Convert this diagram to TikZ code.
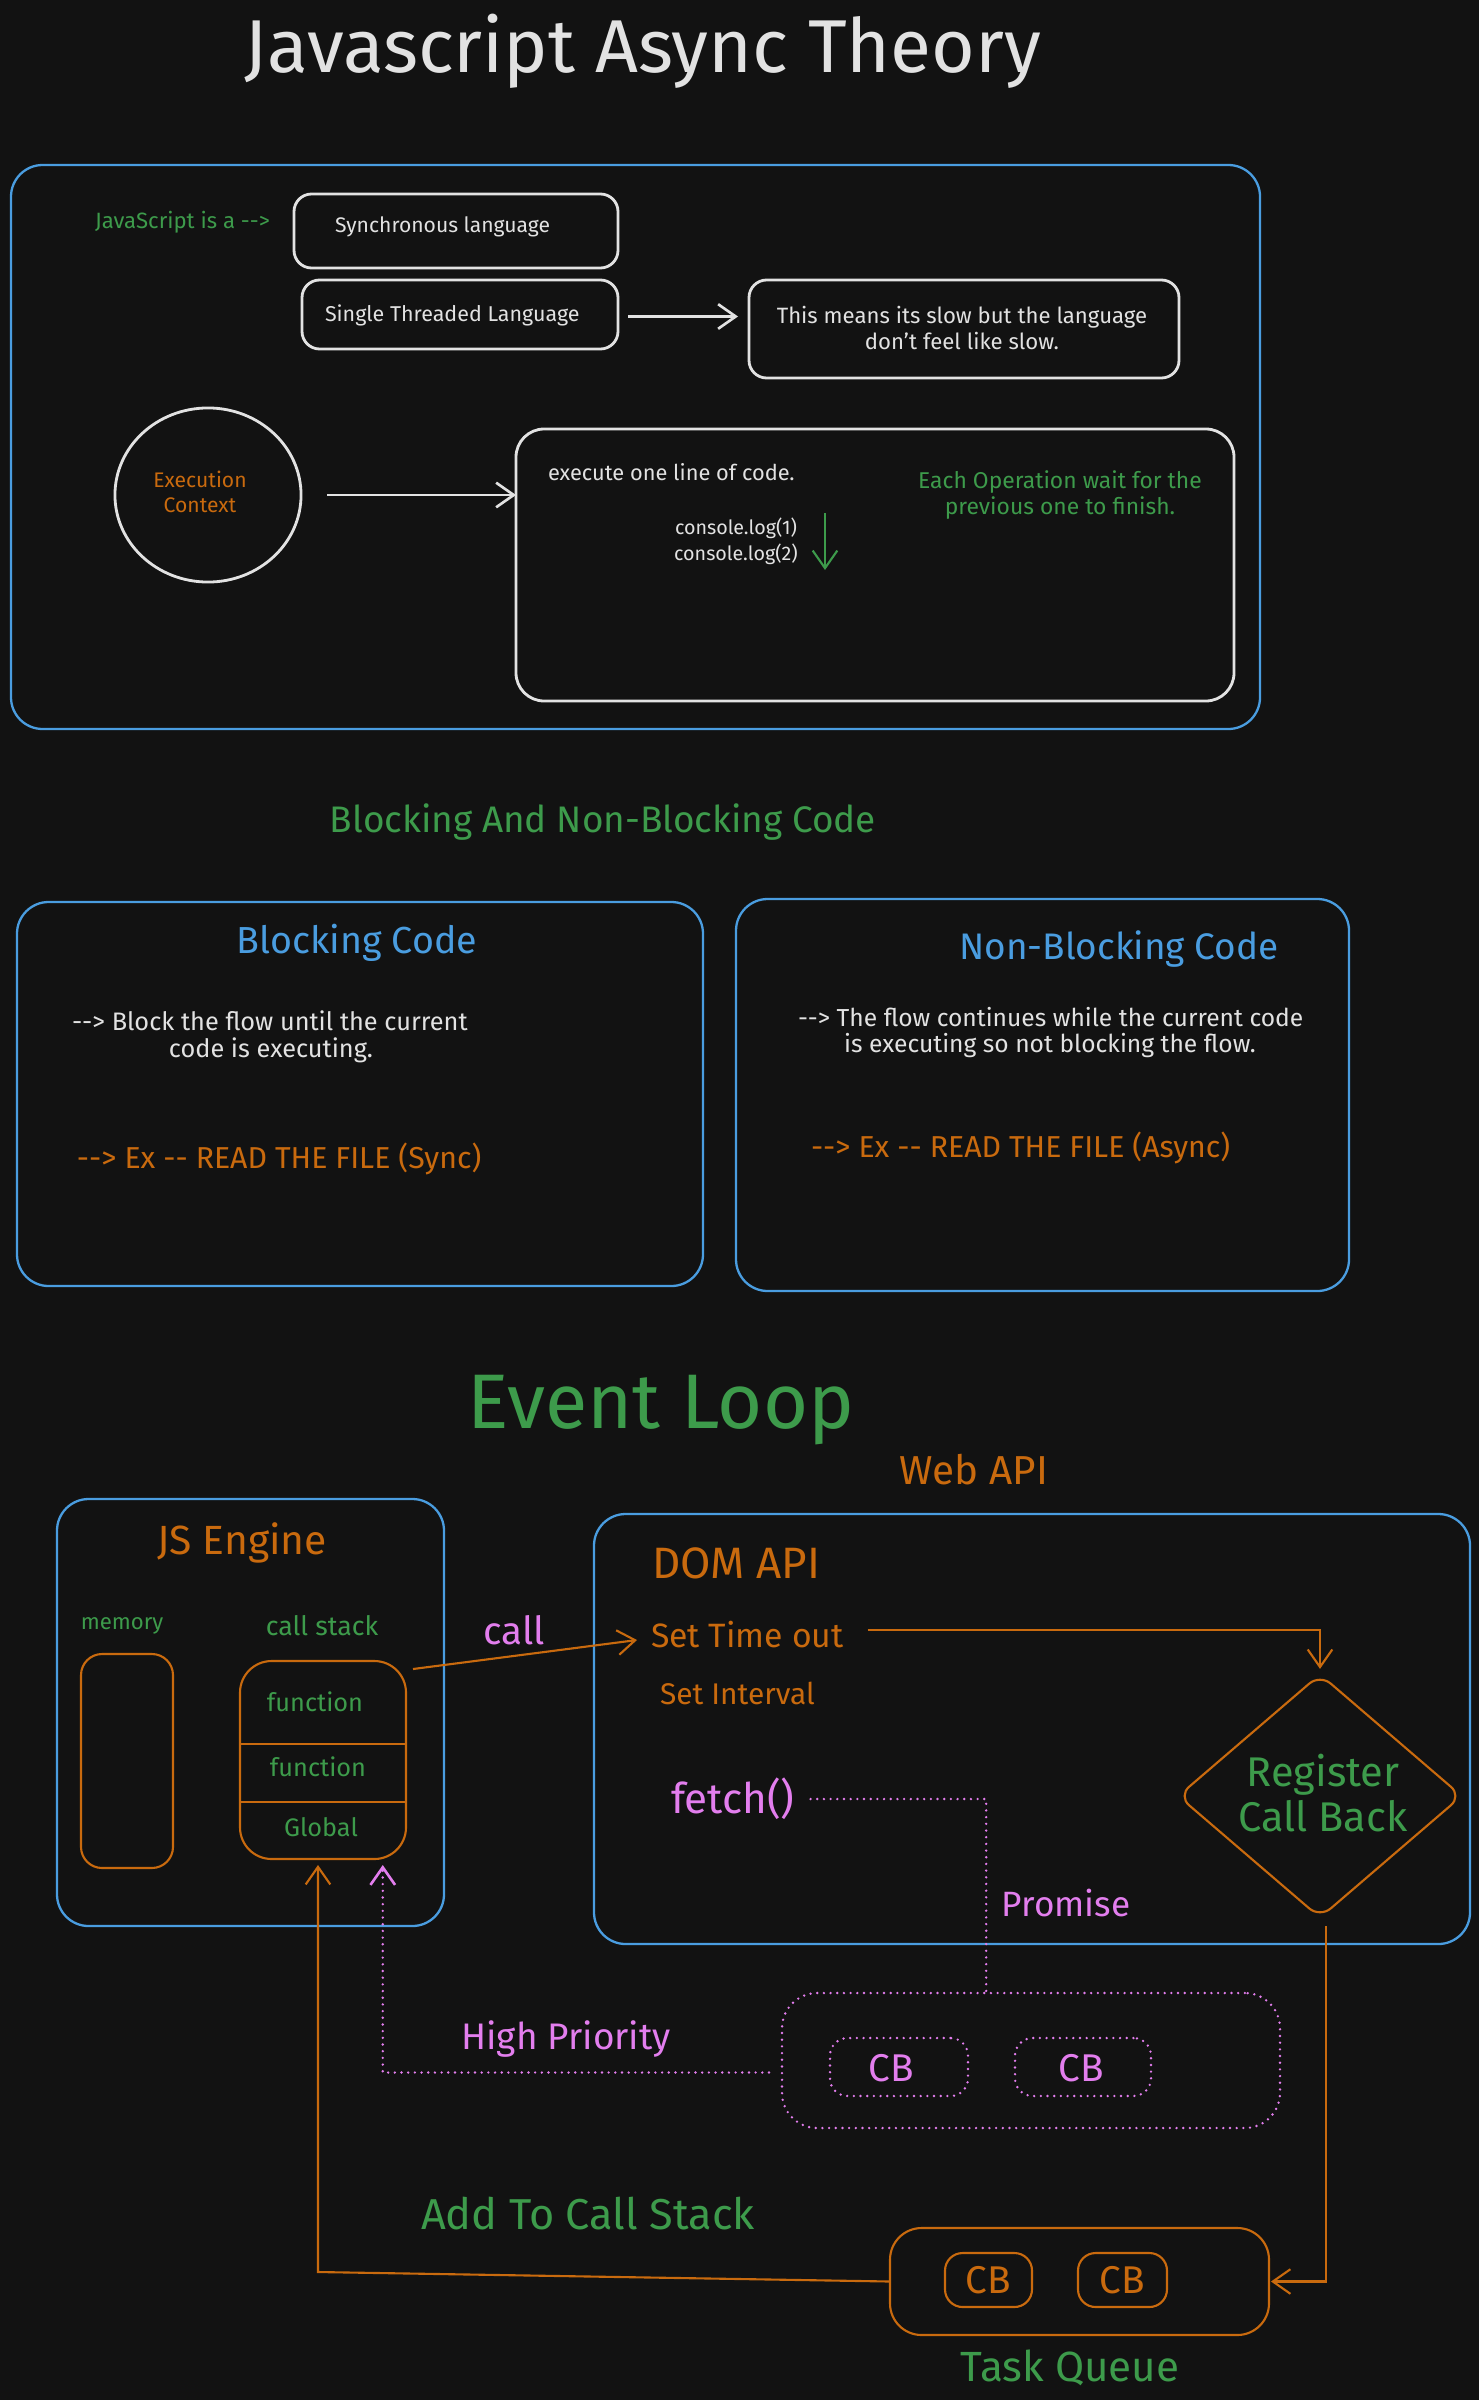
\documentclass[tikz,border=0pt]{standalone}
\usepackage{fontspec}
\setmainfont{Fira Sans}
\usetikzlibrary{arrows.meta,shapes.geometric,fit,calc}
\definecolor{bg}{HTML}{121212}
\definecolor{ink}{HTML}{E2E2E2}
\definecolor{ebblue}{HTML}{4A9DE0}
\definecolor{ebgreen}{HTML}{3D9B4B}
\definecolor{eborange}{HTML}{C96A0E}
\definecolor{ebpink}{HTML}{E37EEE}
\newcommand\fsz[2]{\fontsize{#1}{#2}\selectfont}
\begin{document}
\begin{tikzpicture}[x=0.01cm,y=-0.01cm,
  txt/.style={inner sep=0pt, outer sep=0pt, text=ink, font=\fsz{6}{7.2}},
  wbox/.style={draw=ink, line width=0.8pt, rounded corners=5pt, inner sep=0pt, outer sep=0pt},
  bbox/.style={draw=ebblue, line width=0.65pt, rounded corners=9pt, inner sep=0pt, outer sep=0pt},
  obox/.style={draw=eborange, line width=0.6pt, rounded corners=5pt, inner sep=0pt, outer sep=0pt},
  pbox/.style={draw=ebpink, line width=0.75pt, dash pattern=on 0pt off 1.9pt, line cap=round, rounded corners=5pt, inner sep=0pt, outer sep=0pt},
  tip/.style={-{Straight Barb[length=5pt,width=7pt]}},
  warr/.style={draw=ink, line width=0.75pt, tip},
  oarr/.style={draw=eborange, line width=0.6pt, tip},
  garr/.style={draw=ebgreen, line width=0.6pt, tip},
  pdot/.style={draw=ebpink, line width=0.75pt, dash pattern=on 0pt off 1.9pt, line cap=round},
]
\fill[bg] (0,0) rectangle (1479,2400);
\useasboundingbox (0,0) rectangle (1479,2400);

% ---------- title ----------
\node[txt, font=\fsz{21.3}{25}] (title) at (643,51) {Javascript Async Theory};

% ---------- synchronous, single threaded ----------
\node[bbox, fit={(11,165) (1260,729)}] (sec1) {};
\node[txt, text=ebgreen, font=\fsz{6.3}{7}, anchor=west] (jsis) at (95,222) {JavaScript is a -{}->};
\node[wbox, fit={(294,194) (618,268)}] (sync) {};
\node[txt, anchor=west] (synct) at (335,227) {Synchronous language};
\node[wbox, fit={(302,280) (618,349)}] (single) {};
\node[txt, anchor=west, font=\fsz{6.1}{7.2}] (singlet) at (325,315) {Single Threaded Language};
\node[wbox, fit={(749,280) (1179,378)}] (means) {};
\node[txt, align=center, font=\fsz{6.3}{7.2}] (meanst) at (962,328) {This means its slow but the language\\don't feel like slow.};
\draw[warr] ($(single.east)+(10,2)$) -- ($(means.west |- single.east)+(-11,2)$);

\node[draw=ink, line width=0.8pt, ellipse, minimum width=1.86cm, minimum height=1.74cm, inner sep=0pt] (ctx) at (208,495) {};
\node[txt, text=eborange, align=center] (ctxt) at (200,492) {Execution\\Context};
\node[wbox, rounded corners=8pt, fit={(516,429) (1234,701)}] (exbox) {};
\draw[warr] ($(ctx.east)+(25,0)$) -- (exbox.west |- ctx.east);
\node[txt, anchor=west, font=\fsz{6.2}{7.2}] (exline) at (548,472) {execute one line of code.};
\node[txt, align=center, font=\fsz{5.6}{7.4}] (cons) at (736,541) {console.log(1)\\console.log(2)};
\coordinate (gtop) at (825,513);
\coordinate (gbot) at (825,570);
\draw[garr] (gtop) -- (gbot);
\node[txt, text=ebgreen, align=center, font=\fsz{6.5}{7.2}] (each) at (1060,495) {Each Operation wait for the\\previous one to finish.};

% ---------- blocking / non-blocking ----------
\node[txt, text=ebgreen, font=\fsz{10.5}{12}] (bnb) at (603,822) {Blocking And Non-Blocking Code};

\node[bbox, fit={(17,902) (703,1286)}] (blk) {};
\node[txt, text=ebblue, font=\fsz{10.7}{12}] (blkt) at (357,943) {Blocking Code};
\node[txt, anchor=west, font=\fsz{7.2}{8}] (blk1) at (72,1021) {-{}-> Block the flow until the current};
\node[txt, font=\fsz{7.2}{8}] (blk2) at (271,1050) {code is executing.};
\node[txt, text=eborange, anchor=west, font=\fsz{8.6}{10}] (blk3) at (77,1159) {-{}-> Ex -{}- READ THE FILE (Sync)};

\node[bbox, fit={(736,899) (1349,1291)}] (nblk) {};
\node[txt, text=ebblue, font=\fsz{10.5}{12}] (nblkt) at (1119,949) {Non-Blocking Code};
\node[txt, anchor=west, font=\fsz{7}{8}] (nblk1) at (798,1017) {-{}-> The flow continues while the current code};
\node[txt, font=\fsz{7}{8}] (nblk2) at (1050,1046) {is executing so not blocking the flow.};
\node[txt, text=eborange, anchor=west, font=\fsz{8.6}{10}] (nblk3) at (811,1148) {-{}-> Ex -{}- READ THE FILE (Async)};

% ---------- event loop ----------
\node[txt, text=ebgreen, font=\fsz{22}{26}] (evl) at (661,1410) {Event Loop};
\node[txt, text=eborange, font=\fsz{11.5}{13}] (webapi) at (974,1470) {Web API};

\node[bbox, fit={(57,1499) (444,1926)}] (engine) {};
\node[txt, text=eborange, font=\fsz{11.6}{13}] (enginet) at (242,1543) {JS Engine};
\node[txt, text=ebgreen, font=\fsz{6.3}{7}] (memt) at (122,1626) {memory};
\node[txt, text=ebgreen, font=\fsz{7.6}{8.5}] (cst) at (322,1626) {call stack};
\node[obox, rounded corners=6pt, fit={(81,1654) (173,1868)}] (mem) {};
\node[obox, rounded corners=9pt, fit={(240,1661) (406,1859)}] (cstack) {};
\draw[eborange, line width=0.6pt] ($(cstack.north west)!0.42!(cstack.south west)$) -- ($(cstack.north east)!0.42!(cstack.south east)$);
\draw[eborange, line width=0.6pt] ($(cstack.north west)!0.71!(cstack.south west)$) -- ($(cstack.north east)!0.71!(cstack.south east)$);
\node[txt, text=ebgreen, font=\fsz{7.2}{8}] (f1) at (315,1702) {function};
\node[txt, text=ebgreen, font=\fsz{7.2}{8}] (f2) at (318,1767) {function};
\node[txt, text=ebgreen, font=\fsz{7.2}{8}] (glob) at (321,1827) {Global};

\node[bbox, fit={(594,1514) (1470,1944)}] (web) {};
\node[txt, text=eborange, font=\fsz{12.5}{14}] (dom) at (736,1563) {DOM API};
\node[txt, text=eborange, font=\fsz{9.6}{11}, anchor=west] (settime) at (651,1635) {Set Time out};
\node[txt, text=eborange, font=\fsz{8.5}{10}, anchor=west] (setint) at (660,1693) {Set Interval};
\node[txt, text=ebpink, font=\fsz{12}{14}, anchor=west] (fetch) at (671,1799) {fetch()};
\node[txt, text=ebpink, font=\fsz{11}{13}] (callt) at (514,1630) {call};
\node[draw=eborange, line width=0.6pt, diamond, rounded corners=4pt, minimum width=2.84cm, minimum height=2.44cm, inner sep=0pt] (reg) at (1320,1796) {};
\node[txt, text=ebgreen, align=center, font=\fsz{11.8}{12.8}] (regt) at (1323,1793) {Register\\Call Back};
\node[txt, text=ebpink, font=\fsz{10}{12}] (prom) at (1066,1903) {Promise};

% call stack -> set time out
\draw[oarr] ($(cstack.north east)+(7,8)$) -- ($(settime.west)+(-14,5)$);
% set time out -> register call back
\draw[oarr] ($(settime.east)+(24,-5)$) -| ($(reg.north)+(0,-4)$);

% microtask queue
\node[pbox, rounded corners=10pt, fit={(782,1993) (1280,2128)}] (micro) {};
\node[pbox, fit={(830,2038) (968,2096)}] (mcb1) {};
\node[pbox, fit={(1015,2038) (1151,2096)}] (mcb2) {};
\node[txt, text=ebpink, font=\fsz{11}{13}] (mcb1t) at (891,2068) {CB};
\node[txt, text=ebpink, font=\fsz{11}{13}] (mcb2t) at (1081,2068) {CB};
\draw[pdot] ($(fetch.east)+(16,0)$) -| ($(micro.north west)!0.41!(micro.north east)$);
\draw[pdot, tip] ($(micro.west)+(-13,12)$) -| ($(cstack.south west)!0.86!(cstack.south east)+(0,6)$);
\node[txt, text=ebpink, font=\fsz{10.5}{12}] (high) at (566,2039) {High Priority};

% task queue
\node[obox, rounded corners=9pt, fit={(890,2228) (1269,2335)}] (taskq) {};
\node[obox, fit={(945,2253) (1032,2307)}] (tcb1) {};
\node[obox, fit={(1078,2253) (1167,2307)}] (tcb2) {};
\node[txt, text=eborange, font=\fsz{11}{13}] (tcb1t) at (988,2280) {CB};
\node[txt, text=eborange, font=\fsz{11}{13}] (tcb2t) at (1122,2280) {CB};
\node[txt, text=ebgreen, font=\fsz{12}{14}] (tqt) at (1070,2368) {Task Queue};
\node[txt, text=ebgreen, font=\fsz{12.3}{14}] (addt) at (588,2214) {Add To Call Stack};
% register call back -> task queue
\draw[oarr] ($(reg.south)+(6,7)$) |- ($(taskq.east)+(2,0)$);
% task queue -> call stack
\draw[oarr] (taskq.west) -- ($(cstack.south)+(-5,413)$) -- ($(cstack.south)+(-5,6)$);
\end{tikzpicture}
\end{document}
